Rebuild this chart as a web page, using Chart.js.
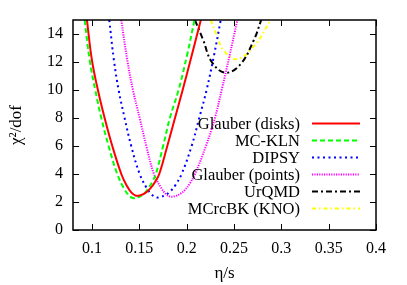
<!DOCTYPE html>
<html>
<head>
<meta charset="utf-8">
<script src="https://cdn.jsdelivr.net/npm/chart.js@4"></script>
<style>
  html, body { margin: 0; padding: 0; background: #fff; }
  #wrap { width: 407px; height: 285px; }
</style>
</head>
<body>
<div id="wrap"><canvas id="chi2Chart" width="407" height="285"></canvas></div>
<script>
// ── DATA ────────────────────────────────────────────────────────────────────
const xTicks = [0.1, 0.15, 0.2, 0.25, 0.3, 0.35, 0.4];
const yTicks = [0, 2, 4, 6, 8, 10, 12, 14];

const seriesLabels = ["Glauber (disks)", "MC-KLN", "DIPSY", "Glauber (points)", "UrQMD", "MCrcBK (KNO)"];

const glauberDisksEta  = [0.0947, 0.1, 0.1063, 0.1134, 0.1215, 0.131, 0.1365, 0.1415, 0.1465, 0.1515, 0.1565, 0.1615, 0.1665, 0.1711, 0.1796, 0.1877, 0.1958, 0.2055, 0.2150];
const glauberDisksChi2 = [15, 12.14, 10, 8, 6, 4, 3.2, 2.69, 2.45, 2.49, 2.65, 2.95, 3.41, 4, 6, 8, 10, 12.5, 15];

const mcklnEta  = [0.0923, 0.0976, 0.1035, 0.1099, 0.1176, 0.1267, 0.1335, 0.1385, 0.1435, 0.1485, 0.1535, 0.1585, 0.1635, 0.1675, 0.1752, 0.1823, 0.1915, 0.2005, 0.2083];
const mcklnChi2 = [15, 12.14, 10, 8, 6, 4, 3.01, 2.51, 2.28, 2.33, 2.51, 2.87, 3.41, 4, 6, 8, 10, 12.5, 15];

const dipsyEta  = [0.1183, 0.1232, 0.1282, 0.1345, 0.1415, 0.1504, 0.158, 0.163, 0.168, 0.173, 0.178, 0.183, 0.188, 0.1947, 0.2053, 0.2133, 0.2211, 0.229, 0.236];
const dipsyChi2 = [15, 12.14, 10, 8, 6, 4, 2.98, 2.54, 2.33, 2.37, 2.51, 2.78, 3.19, 4, 6, 8, 10, 12.5, 15];

const glauberPointsEta  = [0.131, 0.1373, 0.1433, 0.1504, 0.1574, 0.1655, 0.173, 0.178, 0.183, 0.188, 0.193, 0.198, 0.203, 0.2088, 0.2204, 0.2299, 0.237, 0.2455, 0.2536];
const glauberPointsChi2 = [15, 12.14, 10, 8, 6, 4, 3.02, 2.58, 2.38, 2.42, 2.57, 2.85, 3.29, 4, 6, 8, 10, 12.5, 15];

const urqmdEta  = [0.2088, 0.2175, 0.2264, 0.2405, 0.2563, 0.271, 0.2788];
const urqmdChi2 = [15, 13.57, 12.02, 11.24, 11.79, 13.57, 15];

const mcrcbkEta  = [0.2254, 0.2317, 0.2387, 0.2528, 0.272, 0.2887];
const mcrcbkChi2 = [15, 13.93, 12.86, 12.2, 13.2, 15];

// ── HELPERS ─────────────────────────────────────────────────────────────────
const FONT = "'Liberation Serif', 'DejaVu Serif', serif";

function pairs(xs, ys) {
  return xs.map((x, i) => ({ x: x, y: ys[i] }));
}

function makeSet(label, xs, ys, color, dash) {
  return {
    label: label,
    data: pairs(xs, ys),
    borderColor: color,
    borderWidth: 2,
    borderDash: dash,
    pointRadius: 0,
    fill: false,
    tension: 0.4
  };
}

// ── FRAME, INWARD TICKS, TITLES, KEY ────────────────────────────────────────
const framePlugin = {
  id: "frame",
  afterDraw(chart) {
    const ctx = chart.ctx;
    const a = chart.chartArea;
    const xs = chart.scales.x, ys = chart.scales.y;
    const tl = 6;

    ctx.save();
    ctx.strokeStyle = "#000";
    ctx.lineWidth = 1.5;
    ctx.setLineDash([]);
    ctx.strokeRect(a.left, a.top, a.right - a.left, a.bottom - a.top);

    ctx.lineWidth = 1;
    ctx.beginPath();
    xTicks.forEach(v => {
      const px = Math.round(xs.getPixelForValue(v)) + 0.5;
      ctx.moveTo(px, a.bottom); ctx.lineTo(px, a.bottom - tl);
      ctx.moveTo(px, a.top);    ctx.lineTo(px, a.top + tl);
    });
    yTicks.forEach(v => {
      const py = Math.round(ys.getPixelForValue(v)) + 0.5;
      ctx.moveTo(a.left, py);  ctx.lineTo(a.left + tl, py);
      ctx.moveTo(a.right, py); ctx.lineTo(a.right - tl, py);
    });
    ctx.stroke();

    // axis titles
    ctx.fillStyle = "#000";
    ctx.font = "17px " + FONT;
    ctx.textAlign = "center";
    ctx.textBaseline = "middle";
    ctx.fillText("η/s", (a.left + a.right) / 2, 274);

    ctx.save();
    ctx.translate(17, (a.top + a.bottom) / 2);
    ctx.rotate(-Math.PI / 2);
    ctx.fillText("χ²/dof", 0, 0);
    ctx.restore();

    // key, gnuplot style: text right-aligned, sample to its right
    ctx.font = "16.5px " + FONT;
    ctx.textAlign = "right";
    chart.data.datasets.forEach((ds, i) => {
      const y = 123.5 + i * 17;
      ctx.fillStyle = "#000";
      ctx.fillText(ds.label, 300, y + 1);
      ctx.beginPath();
      ctx.strokeStyle = ds.borderColor;
      ctx.lineWidth = 2;
      ctx.setLineDash(ds.borderDash || []);
      ctx.moveTo(312, y);
      ctx.lineTo(360, y);
      ctx.stroke();
    });
    ctx.restore();
  }
};

// ── CHART ───────────────────────────────────────────────────────────────────
const ctx = document.getElementById("chi2Chart").getContext("2d");

new Chart(ctx, {
  type: "line",
  data: {
    datasets: [
      makeSet(seriesLabels[0], glauberDisksEta,  glauberDisksChi2,  "#ff0000", []),
      makeSet(seriesLabels[1], mcklnEta,         mcklnChi2,         "#00ff00", [5, 3]),
      makeSet(seriesLabels[2], dipsyEta,         dipsyChi2,         "#0000ff", [2, 3.5]),
      makeSet(seriesLabels[3], glauberPointsEta, glauberPointsChi2, "#ff00ff", [1.2, 1.2]),
      makeSet(seriesLabels[4], urqmdEta,         urqmdChi2,         "#000000", [6, 3, 2, 3]),
      makeSet(seriesLabels[5], mcrcbkEta,        mcrcbkChi2,        "#ffff00", [4, 3, 1.5, 3])
    ]
  },
  options: {
    responsive: false,
    animation: false,
    events: [],
    layout: { padding: { left: 0, right: 31, top: 20, bottom: 0 } },
    plugins: { legend: { display: false }, tooltip: { enabled: false }, title: { display: false } },
    scales: {
      x: {
        type: "linear",
        min: 0.08,
        max: 0.4,
        grid: { display: false, drawTicks: false },
        border: { display: false },
        afterBuildTicks: s => { s.ticks = xTicks.map(v => ({ value: v })); },
        afterFit: s => { s.height = 55; },
        ticks: {
          color: "#000",
          padding: 9,
          maxRotation: 0,
          autoSkip: false,
          font: { family: FONT, size: 16 },
          callback: v => String(v)
        }
      },
      y: {
        type: "linear",
        min: 0,
        max: 15,
        grid: { display: false, drawTicks: false },
        border: { display: false },
        afterBuildTicks: s => { s.ticks = yTicks.map(v => ({ value: v })); },
        afterFit: s => { s.width = 73; },
        ticks: {
          color: "#000",
          padding: 10,
          autoSkip: false,
          font: { family: FONT, size: 16 },
          callback: v => String(v)
        }
      }
    }
  },
  plugins: [framePlugin]
});
</script>
</body>
</html>
